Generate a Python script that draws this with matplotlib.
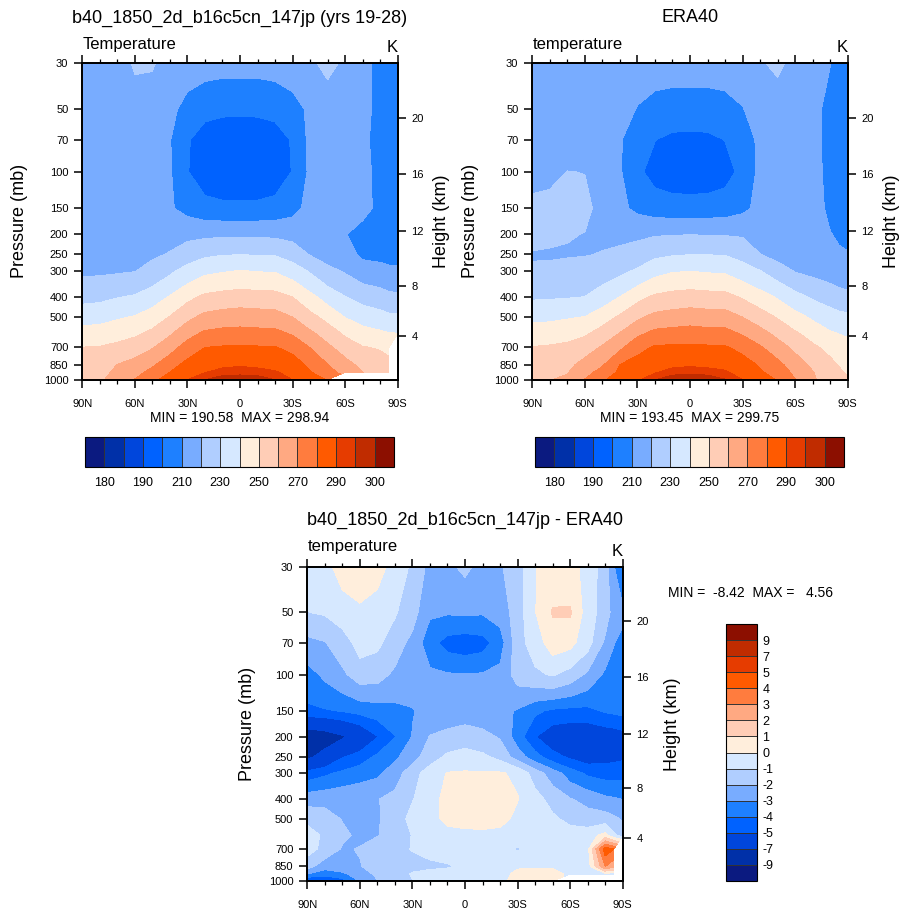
import numpy as np
import matplotlib
matplotlib.use("Agg")
import matplotlib.pyplot as plt
from matplotlib.ticker import NullLocator, FixedLocator

plt.rcParams['font.family'] = ['Liberation Sans', 'DejaVu Sans']
plt.rcParams['axes.unicode_minus'] = False

W, H = 905, 913
nan = np.nan

# grid
LATS = [90, 80, 70, 60, 50, 40, 30, 20, 10, 0, -10, -20, -30, -40, -50, -60, -70, -80, -85, -90]
PLEVS = [30, 50, 70, 100, 150, 200, 250, 300, 400, 500, 600, 700, 850, 925, 1000]

# model temperature (K), one row per pressure level
T_MODEL = [
    [217, 217, 218, 220.5, 220.5, 217.5, 215, 213.5, 213, 213, 213, 213.5, 215, 219, 221.5, 219, 213, 207, 204.5, 204],
    [217, 217, 217.5, 218, 217, 213, 206, 203, 202, 202, 202, 203, 206, 212, 216.5, 217, 213, 207, 204.5, 204],
    [216, 216, 216, 216, 215, 210.5, 201, 195, 193, 192.5, 193, 195, 201, 212.5, 215, 215, 212.5, 206, 204.5, 204],
    [216, 216, 216, 216, 215, 211, 200.5, 194, 191.5, 190.58, 191.5, 194, 200.5, 212, 215, 215, 213, 207, 205.5, 205],
    [216, 216, 216, 216.5, 216, 211, 207, 204, 203, 203, 203, 204, 207, 213, 216, 215.5, 213, 207.5, 205.5, 205],
    [215.5, 215.5, 215.5, 216, 216.5, 217, 217.5, 218, 218.5, 218.5, 218.5, 218, 217, 215, 213, 210.5, 206, 205, 205, 205],
    [216, 216, 216.5, 217, 218.7, 220.6, 225.1, 228.3, 229.5, 229.9, 229.5, 229.3, 225.5, 219.5, 216, 214, 208, 207.5, 207.5, 207.5],
    [218.3, 218.5, 219, 219.7, 223, 228.2, 233.5, 237.8, 239.2, 240.3, 239.6, 239.2, 235.3, 228.9, 222.5, 219, 214.6, 213, 211.5, 211.5],
    [226.9, 227.6, 229.5, 231.1, 235.3, 240.7, 247.3, 252, 253.6, 254.5, 254, 253.6, 249.9, 242.8, 235.8, 230.3, 226.3, 224.3, 222.5, 222],
    [236.1, 236.8, 238.8, 240.7, 244.6, 250.5, 257.5, 262.6, 264.3, 265.1, 264.5, 264, 259.9, 253, 246.8, 239.7, 235.8, 233.5, 232, 231.6],
    [243.7, 244.3, 246.2, 248.3, 252.3, 258.7, 266.4, 271.8, 273.1, 273.5, 273, 272.7, 268.9, 262, 255.3, 248.4, 243.7, 241.7, 240.5, 240.1],
    [250.1, 250.5, 252.3, 255.1, 259.3, 266.1, 274.1, 279.9, 280.8, 281.2, 280.8, 280.5, 277.1, 269.7, 262.1, 255.3, 250.5, 249.2, 248, nan],
    [253.5, 255, 260.2, 263.5, 268.6, 275.8, 283.2, 286.8, 288.3, 289.3, 288.3, 287.6, 284.6, 278, 270.3, 263.6, 257.2, 254, 252, nan],
    [255.2, 257, 262, 266.9, 273, 280.2, 286.7, 289.8, 292.5, 292.9, 292.5, 290.8, 287.5, 280.8, 273.5, 266.8, 260.2, 256, 253.5, nan],
    [256, 258.5, 264, 270.2, 278.5, 282.5, 289.8, 294.8, 298, 298.94, 298, 294.8, 289.8, 284, 279.5, nan, nan, nan, nan, nan],
]

# ERA40 temperature (K)
T_ERA = [
    [217, 217, 217, 217, 216, 215, 214, 213.5, 213, 213, 213, 213.5, 215, 219.5, 221, 218.5, 215, 210.2, 207.5, 206],
    [217, 217, 217, 217, 216, 214, 209.5, 207, 206.5, 206.5, 206.5, 207, 209.5, 215, 217, 216.5, 213, 207, 205.5, 205],
    [217, 217, 217, 216.5, 215.5, 211, 203, 200.2, 197.5, 197, 197.5, 200.2, 204, 212.5, 216, 216, 213, 207, 205.5, 205],
    [217.5, 218.5, 220.1, 219.9, 217, 211, 202, 196.5, 194, 193.45, 194, 196.5, 202.5, 212.5, 215.5, 215.5, 213, 207.5, 206.5, 206],
    [222, 222, 222, 221.5, 218, 212, 208, 205.5, 205, 205, 205, 205.5, 208, 212.5, 215.5, 215, 213, 208.5, 207.5, 207],
    [222, 221.5, 220.5, 219.8, 218.5, 217.5, 218, 219.2, 219.6, 219.8, 219.6, 219.4, 219, 216, 213.5, 212, 211, 210.3, 209, 208],
    [219.5, 219.2, 219.3, 219.6, 220.4, 222.2, 224.5, 227.9, 229.2, 229.9, 229.8, 229.6, 226.2, 220.2, 216.5, 214.5, 212.5, 211.5, 211, 210.5],
    [220.8, 221.5, 222.8, 223.5, 225.2, 227.7, 231.3, 236.7, 239.2, 239.8, 239.1, 238.5, 234.8, 230.3, 224.8, 219.4, 217.5, 215.5, 214.5, 214],
    [228.7, 229, 229.4, 230.1, 234.6, 240.1, 247, 251.7, 253.5, 254.5, 253.7, 253.2, 248.9, 244, 239, 233.3, 228.7, 225.6, 223.5, 222.4],
    [237.5, 237.9, 239.1, 240.2, 245.4, 251.5, 258.2, 262.8, 264.1, 265.2, 264.4, 264.3, 259.9, 254.8, 249.1, 243.3, 238.4, 234.4, 233, 232.3],
    [244.8, 245.5, 246.7, 248.5, 254.1, 260.4, 267.8, 272.7, 273.6, 274.4, 273.4, 273.2, 268.9, 263.5, 257.3, 251.4, 246, 241.1, 239.8, 239],
    [250.3, 251, 252, 255.3, 261.1, 267.8, 277.1, 281.1, 281.7, 281.8, 281.4, 281, 277.1, 271.1, 264.3, 257.8, 251.8, 247.2, 244.5, 242.5],
    [253.5, 256, 257.2, 263.6, 269, 280.2, 283.5, 287, 288.3, 289.1, 288.3, 287.8, 284.2, 279, 272.9, 264.8, 258.1, 252.5, 249.5, 247],
    [255, 258, 259.4, 266.8, 273.5, 282, 286.2, 289.5, 292.7, 293.2, 292.7, 291, 287.2, 281.2, 276.2, 267.6, 260.5, 254.5, 251.5, 249],
    [256, 259.5, 262, 270.2, 278.8, 284, 288.7, 294.5, 299, 299.75, 299, 295.2, 289.8, 283, 279.5, 270.2, 261, 256, 252.5, 250.5],
]

# model minus ERA40 (K)
T_DIFF = [
    [-0.6, -0.3, 0.4, 0.6, 0.3, -0.3, -1.2, -2.3, -2.2, -1.8, -2.3, -2.1, -1.5, -0.05, 0.5, 0.4, -0.4, -1.5, -2.95, -4.2],
    [-1.02, -0.9, -0.5, -0.2, -0.4, -0.9, -1.6, -2.85, -2.9, -2.85, -2.9, -2.6, -1.5, -0.05, 1.08, 1.12, -0.5, -1.5, -2.4, -2.7],
    [-2.3, -2.05, -1.5, -0.6, -0.8, -1.5, -2.3, -3.6, -4.4, -4.6, -4.4, -3.5, -1.4, -0.5, 0.5, 0.3, -0.6, -2.2, -2.95, -3.4],
    [-3.4, -2.8, -2.2, -1.5, -1.6, -2.2, -2.6, -2.8, -2.9, -2.95, -2.9, -2.7, -1.6, -1.2, -0.9, -1.4, -2.2, -3.2, -3.5, -3.7],
    [-4.2, -4.1, -3.95, -3.7, -3.5, -3.3, -3.05, -2.7, -2.6, -2.5, -2.6, -2.7, -3.1, -3.8, -4.2, -4.3, -4.3, -3.9, -3.8, -3.7],
    [-8.42, -8.0, -7.2, -6.3, -5.05, -4.05, -2.95, -1.95, -1.7, -1.5, -1.7, -2.1, -3.5, -4.95, -5.8, -6.0, -6.0, -5.8, -5.7, -5.5],
    [-7.4, -6.3, -5.1, -4.5, -3.8, -3.2, -2.4, -1.5, -0.8, -0.6, -0.8, -1.3, -2.5, -3.6, -4.6, -5.2, -5.6, -5.4, -5.3, -5.2],
    [-4.6, -4.2, -3.8, -3.5, -3.2, -2.5, -1.4, -0.5, 0.05, 0.1, 0.1, 0.1, -0.2, -1.5, -2.5, -3.5, -4.2, -4.4, -4.4, -4.3],
    [-2.4, -2.3, -2.2, -2.1, -2.05, -1.7, -1.05, -0.5, 0.4, 0.6, 0.6, 0.5, 0.05, -0.6, -1.4, -1.95, -2.3, -2.8, -2.9, -3.05],
    [-1.3, -1.6, -2.05, -2.2, -2.1, -1.5, -0.7, -0.4, 0.3, 0.4, 0.5, 0.4, -0.3, -0.5, -0.8, -1.3, -1.6, -1.5, -1.8, -2.1],
    [-0.5, -1.2, -1.8, -2.2, -2.05, -1.6, -0.95, -0.6, -0.4, -0.3, -0.3, -0.4, -0.5, -0.5, -0.6, -0.5, -0.4, 0.3, -0.8, -1.5],
    [-0.6, -1.3, -2.1, -1.95, -1.5, -1.3, -0.95, -0.7, -0.5, -0.5, -0.6, -0.7, -1.1, -0.6, -0.4, -0.4, -0.3, 4.56, 4.0, nan],
    [-1.6, -2.6, -2.4, -2.05, -1.6, -1.4, -1.3, -1.2, -1.1, -0.8, -0.7, -0.6, -0.1, -0.2, -0.2, -0.3, -0.5, 3.0, 2.3, nan],
    [-3.0, -3.6, -3.2, -2.5, -1.8, -1.5, -0.9, -0.7, -0.6, -0.5, -0.4, -0.3, 0.2, 0.5, 0.5, -0.3, -0.6, -0.3, -0.5, nan],
    [-5.2, -5.05, -4.5, -2.95, -2.05, -1.6, -1.05, -0.6, -0.5, -0.4, -0.3, -0.2, 0.3, 0.6, 0.5, nan, nan, nan, nan, nan],
]

T_LEVELS = [180, 185, 190, 200, 210, 220, 230, 240, 250, 260, 270, 280, 290, 295, 300]
D_LEVELS = [-9, -7, -5, -4, -3, -2, -1, 0, 1, 2, 3, 4, 5, 7, 9]
COLORS = ['#0b1a80', '#0030a8', '#0046dc', '#0062ff', '#1e80ff', '#78acff', '#b0ceff', '#d6e8ff',
          '#ffeedc', '#ffcdb6', '#ffa982', '#ff7c3e', '#ff5a00', '#e63c00', '#c02c00', '#8c0f00']

LAT_TICKS = [90, 60, 30, 0, -30, -60, -90]
LAT_LABELS = ['90N', '60N', '30N', '0', '30S', '60S', '90S']
P_TICKS = [30, 50, 70, 100, 150, 200, 250, 300, 400, 500, 700, 850, 1000]
HGT_TICKS = [4, 8, 12, 16, 20]

TITLE_MODEL = 'b40_1850_2d_b16c5cn_147jp (yrs 19-28)'
TITLE_ERA = 'ERA40'
TITLE_DIFF = 'b40_1850_2d_b16c5cn_147jp - ERA40'


def std_pressure(z_km):
    # standard atmosphere, used only to place the height ticks
    z = z_km * 1000.0
    if z <= 11000:
        return 1013.25 * (1 - 0.0065 * z / 288.15) ** 5.25588
    return 226.32 * np.exp(-(z - 11000) / 6341.62)


def rect(x0, y0, x1, y1):
    return [x0 / W, 1 - y1 / H, (x1 - x0) / W, (y1 - y0) / H]


def ftext(x, y, s, **kw):
    fig.text(x / W, 1 - y / H, s, **kw)


fig = plt.figure(figsize=(W / 100, H / 100), dpi=100)


def draw_panel(box, field, levels):
    ax = fig.add_axes(rect(*box))
    cf = ax.contourf(LATS, PLEVS, np.array(field, dtype=float), levels=levels,
                     colors=COLORS, extend='both')
    ax.set_yscale('log')
    ax.set_xlim(90, -90)
    ax.set_ylim(1000, 30)
    ax.set_xticks(LAT_TICKS)
    ax.set_xticklabels(LAT_LABELS)
    ax.xaxis.set_minor_locator(FixedLocator(np.arange(-80, 90, 10)))
    ax.set_yticks(P_TICKS)
    ax.set_yticklabels([str(p) for p in P_TICKS])
    ax.yaxis.set_minor_locator(NullLocator())
    ax.tick_params(axis='x', which='major', direction='out', length=6, width=1.1,
                   top=True, bottom=True, labelsize=8, pad=8)
    ax.tick_params(axis='x', which='minor', direction='out', length=3, width=0.9,
                   top=True, bottom=True)
    ax.tick_params(axis='y', which='major', direction='out', length=6, width=1.1,
                   labelsize=8, pad=4)
    for sp in ax.spines.values():
        sp.set_linewidth(1.3)

    ax2 = ax.twinx()
    ax2.set_yscale('log')
    ax2.set_ylim(1000, 30)
    ax2.set_yticks([std_pressure(z) for z in HGT_TICKS])
    ax2.set_yticklabels([str(z) for z in HGT_TICKS])
    ax2.yaxis.set_minor_locator(NullLocator())
    ax2.tick_params(axis='y', which='major', direction='out', length=6, width=1.1,
                    labelsize=8, pad=4)
    for sp in ax2.spines.values():
        sp.set_linewidth(1.3)
    return ax, cf


def hbar(cf, box, levels):
    cax = fig.add_axes(rect(*box))
    cb = fig.colorbar(cf, cax=cax, orientation='horizontal', extendrect=True,
                      extendfrac=1 / 14, drawedges=True)
    cb.set_ticks(levels[::2], labels=[str(v) for v in levels[::2]])
    cb.ax.tick_params(length=0, labelsize=9, pad=7)
    cb.outline.set_linewidth(0.8)
    cb.dividers.set_linewidth(0.7)
    cb.dividers.set_color('#333333')
    return cb


def minmax(field):
    a = np.array(field, dtype=float)
    return 'MIN = %6.2f  MAX = %6.2f' % (np.nanmin(a), np.nanmax(a))


# top left: model
ax1, cf1 = draw_panel((82.3, 63.3, 397.7, 379.5), T_MODEL, T_LEVELS)
ftext(240, 18, TITLE_MODEL, ha='center', va='center', fontsize=13)
ftext(82.3, 44, 'Temperature', ha='left', va='center', fontsize=12)
ftext(397.7, 47, 'K', ha='right', va='center', fontsize=12)
ftext(20, 221, 'Pressure (mb)', rotation=90, ha='center', va='center', fontsize=13)
ftext(441, 221, 'Height (km)', rotation=90, ha='center', va='center', fontsize=13)
ftext(240, 418, minmax(T_MODEL), ha='center', va='center', fontsize=10)
hbar(cf1, (85, 437, 394, 467), T_LEVELS)

# top right: ERA40
ax2, cf2 = draw_panel((532.3, 63.3, 847.7, 379.5), T_ERA, T_LEVELS)
ftext(690, 18, TITLE_ERA, ha='center', va='center', fontsize=13)
ftext(532.3, 44, 'temperature', ha='left', va='center', fontsize=12)
ftext(847.7, 47, 'K', ha='right', va='center', fontsize=12)
ftext(470, 221, 'Pressure (mb)', rotation=90, ha='center', va='center', fontsize=13)
ftext(891, 221, 'Height (km)', rotation=90, ha='center', va='center', fontsize=13)
ftext(690, 418, minmax(T_ERA), ha='center', va='center', fontsize=10)
hbar(cf2, (535, 437, 844, 467), T_LEVELS)

# bottom: difference
ax3, cf3 = draw_panel((307.3, 566.7, 622.7, 881), T_DIFF, D_LEVELS)
ftext(465, 520, TITLE_DIFF, ha='center', va='center', fontsize=13)
ftext(307.3, 547, 'temperature', ha='left', va='center', fontsize=12)
ftext(622.7, 551, 'K', ha='right', va='center', fontsize=12)
ftext(248, 724, 'Pressure (mb)', rotation=90, ha='center', va='center', fontsize=13)
ftext(672, 724, 'Height (km)', rotation=90, ha='center', va='center', fontsize=13)
ftext(750, 593, minmax(T_DIFF), ha='center', va='center', fontsize=10)

cax = fig.add_axes(rect(726, 624, 757, 881))
cb3 = fig.colorbar(cf3, cax=cax, orientation='vertical', extendrect=True,
                   extendfrac=1 / 14, drawedges=True)
cb3.set_ticks(D_LEVELS, labels=[str(v) for v in D_LEVELS])
cb3.ax.tick_params(length=0, labelsize=9, pad=4)
cb3.outline.set_linewidth(0.8)
cb3.dividers.set_linewidth(0.7)
cb3.dividers.set_color('#333333')

fig.savefig('out.png', dpi=100)
